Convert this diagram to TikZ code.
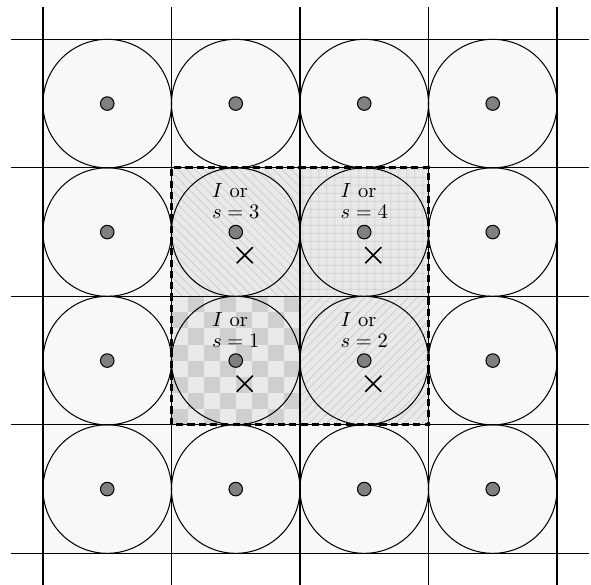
\documentclass[tikz,border=0pt]{standalone}
\usepackage{tikz}
\usetikzlibrary{patterns.meta, shapes.misc}
\definecolor{cellbg}  {HTML}{F8F8F8}
\definecolor{zonebg}  {HTML}{E9E9E9}
\definecolor{hatchcol}{HTML}{CFCFCF}
\definecolor{dotfill} {HTML}{808080}
\tikzset{
  site/.style={circle,draw,fill=dotfill,line width=0.5pt,minimum size=6.6pt,inner sep=0pt},
  probe/.style={cross out,draw,line width=0.8pt,minimum size=7pt,inner sep=0pt},
  tag/.style={align=left,font=\fontsize{10}{10.2}\selectfont,inner sep=0pt},
  gridline/.style={line width=0.5pt}
}
\begin{document}
\begin{tikzpicture}[x=2.2cm,y=2.2cm]
\useasboundingbox(-0.3346,-0.239)rectangle(4.2646,4.306);
\fill[cellbg](0,0)rectangle(4,4);
\fill[zonebg](1,1)rectangle(3,3);
\foreach \i in {0,...,7}
  \foreach \j in {0,...,3}
    \fill[hatchcol]({1+\i/8},{1+(2*\j+mod(\i,2))/8})rectangle+(1/8,1/8);
\fill[pattern={Lines[angle=-45,distance=3pt,line width=0.4pt]},pattern color=hatchcol](1,2)rectangle(2,3);
\fill[pattern={Hatch[angle=0,distance=4pt,line width=0.4pt]},pattern color=hatchcol](2,2)rectangle(3,3);
\fill[pattern={Lines[angle=45,distance=3pt,line width=0.4pt]},pattern color=hatchcol](2,1)rectangle(3,2);
\foreach \k in {0,...,4}{
  \draw[gridline](\k,-0.25)--(\k,4.25);
  \draw[gridline](-0.25,\k)--(4.25,\k);
}
\foreach \i in {0,...,3}
  \foreach \j in {0,...,3}
    \draw[line width=0.5pt](\i+0.5,\j+0.5)circle(0.5);
\draw[line width=1.3pt,dash pattern=on 3.5pt off 2pt](1,1)rectangle(3,3);
\foreach \i in {0,...,3}
  \foreach \j in {0,...,3}
    \node[site](d\i\j)at(\i+0.5,\j+0.5){};
\foreach \i/\j/\s in {1/1/1,2/1/2,1/2/3,2/2/4}{
  \node[probe](x\s)at(\i+0.57,\j+0.32){};
  \node[tag](t\s)at(\i+0.5,\j+0.74){$I$ or\\$s=\s$};
}
\end{tikzpicture}
\end{document}
